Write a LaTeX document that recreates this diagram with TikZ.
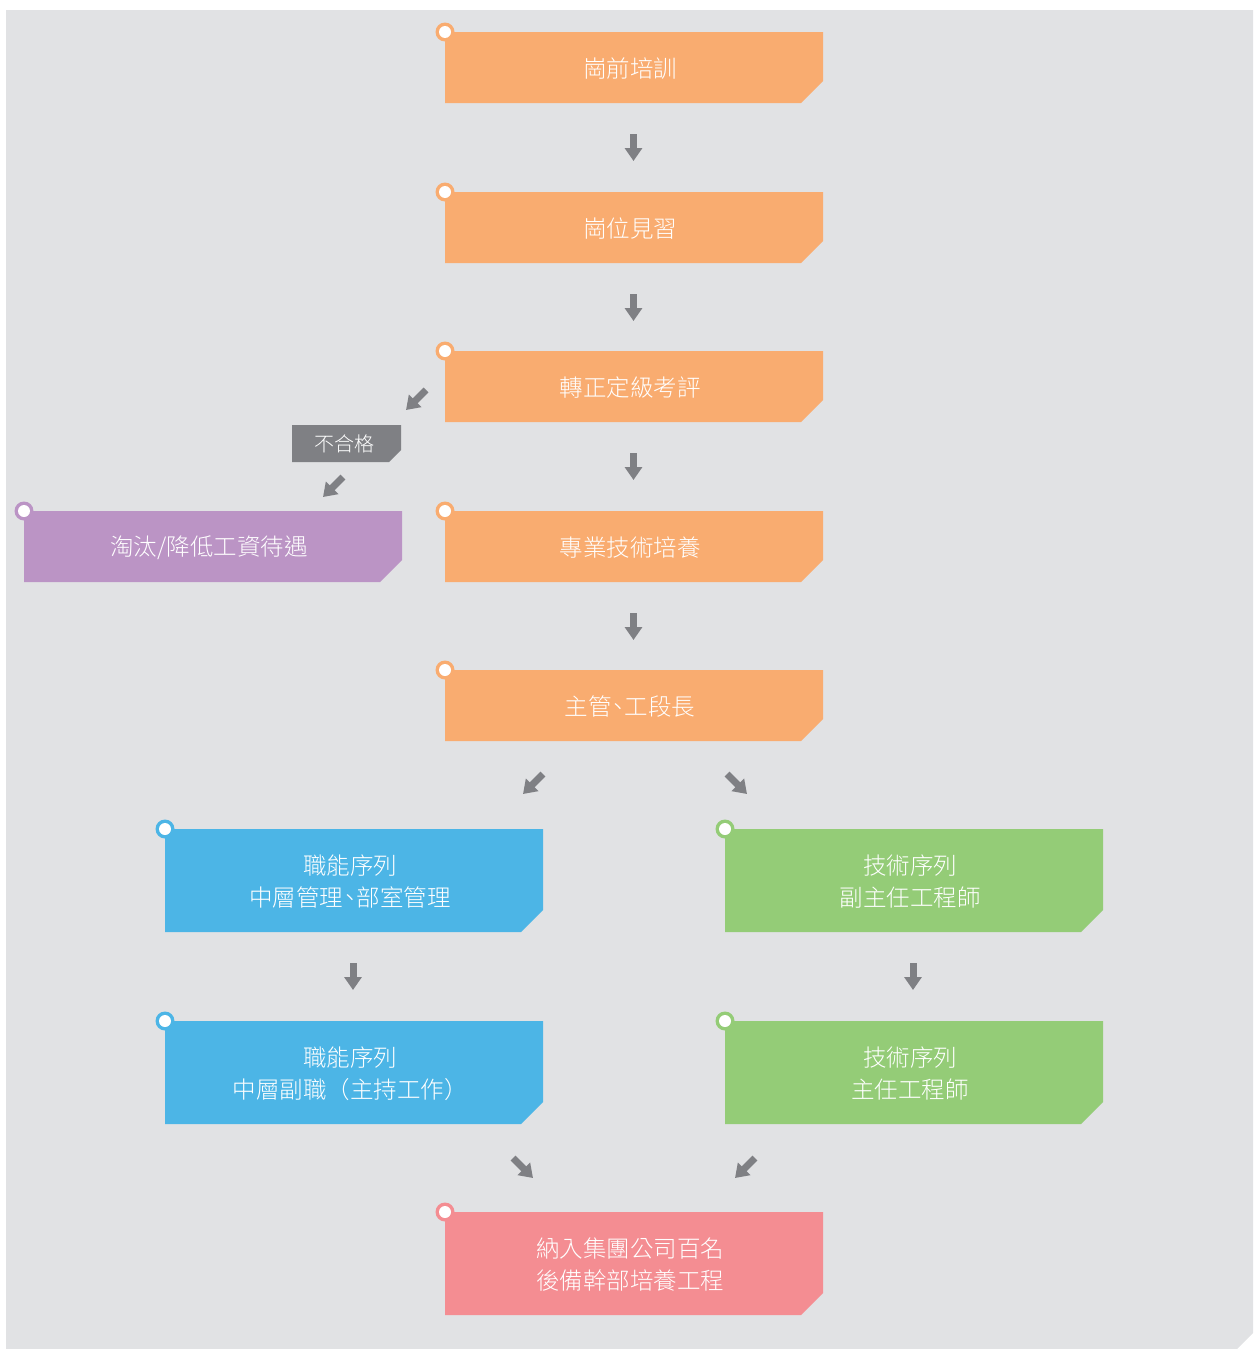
\documentclass[tikz,border=0pt]{standalone}
\usepackage{fontspec}
\setmainfont{Noto Sans CJK TC Light}
\usetikzlibrary{arrows.meta}
\definecolor{orangeC}{HTML}{F9AC70}
\definecolor{blueC}{HTML}{4CB5E6}
\definecolor{greenC}{HTML}{94CC77}
\definecolor{pinkC}{HTML}{F48D92}
\definecolor{purpleC}{HTML}{BB94C5}
\definecolor{grayC}{HTML}{7F8084}
\definecolor{bgC}{HTML}{E1E2E4}
\newcommand\dun{\kern-0.22em、\kern-0.22em}
\tikzset{
  lbl/.style={text=white, font=\fontsize{23.5}{32}\selectfont, align=center, inner sep=0pt},
  smalllbl/.style={text=white, font=\fontsize{20}{24}\selectfont, inner sep=0pt},
  arrowicon/.style={line width=7pt, draw=grayC, -{Triangle[length=13pt,width=17pt]}},
}
% name, x1, y1, x2, y2, colour, text
\newcommand\flowbox[7]{%
  \fill[#6] (#2,#3) -- (#4,#3) -- (#4,#5-22) -- (#4-22,#5) -- (#2,#5) -- cycle;
  \fill[#6] (#2,#3) circle[radius=9.5pt];
  \fill[white] (#2,#3) circle[radius=6pt];
  \node[lbl] (#1) at ({(#2+#4)/2-4},{(#3+#5)/2+1.5}) {#7};
}
\begin{document}
\begin{tikzpicture}[x=1pt,y=-1pt]
\useasboundingbox (0,0) rectangle (1253,1349);
\fill[bgC] (6,10) -- (1253,10) -- (1253,1333) -- (1237,1349) -- (6,1349) -- cycle;

\flowbox{b1}{445}{32}{823}{103}{orangeC}{崗前培訓}
\flowbox{b2}{445}{192}{823}{263}{orangeC}{崗位見習}
\flowbox{b3}{445}{351}{823}{422}{orangeC}{轉正定級考評}
\flowbox{b4}{445}{511}{823}{582}{orangeC}{專業技術培養}
\flowbox{b5}{445}{670}{823}{741}{orangeC}{主管\dun 工段長}
\flowbox{fail}{24}{511}{402}{582}{purpleC}{淘汰/降低工資待遇}
\flowbox{m1}{165}{829}{543}{932}{blueC}{職能序列\\中層管理\dun 部室管理}
\flowbox{t1}{725}{829}{1103}{932}{greenC}{技術序列\\副主任工程師}
\flowbox{m2}{165}{1021}{543}{1124}{blueC}{職能序列\\中層副職（主持工作）}
\flowbox{t2}{725}{1021}{1103}{1124}{greenC}{技術序列\\主任工程師}
\flowbox{fin}{445}{1212}{823}{1315}{pinkC}{納入集團公司百名\\後備幹部培養工程}

% 不合格 tag
\fill[grayC] (292,425) -- (401,425) -- (401,450) -- (389,462) -- (292,462) -- cycle;
\node[smalllbl] (ng) at (344,444) {不合格};

% arrow icons
\coordinate (d1s) at (633.5,134); \coordinate (d1e) at (633.5,161);
\coordinate (d2s) at (633.5,294); \coordinate (d2e) at (633.5,321);
\coordinate (d3s) at (633.5,453); \coordinate (d3e) at (633.5,480);
\coordinate (d4s) at (633.5,613); \coordinate (d4e) at (633.5,640);
\coordinate (d5s) at (353,963); \coordinate (d5e) at (353,990);
\coordinate (d6s) at (913,963); \coordinate (d6e) at (913,990);
\coordinate (g1s) at (426,390); \coordinate (g1e) at (406,410);
\coordinate (g2s) at (343,477); \coordinate (g2e) at (323,497);
\coordinate (g3s) at (543,774); \coordinate (g3e) at (523,794);
\coordinate (g4s) at (727,774); \coordinate (g4e) at (747,794);
\coordinate (g5s) at (513,1158); \coordinate (g5e) at (533,1178);
\coordinate (g6s) at (755,1158); \coordinate (g6e) at (735,1178);
\foreach \a in {d1,d2,d3,d4,d5,d6,g1,g2,g3,g4,g5,g6}
  \draw[arrowicon] (\a s) -- (\a e);
\end{tikzpicture}
\end{document}
